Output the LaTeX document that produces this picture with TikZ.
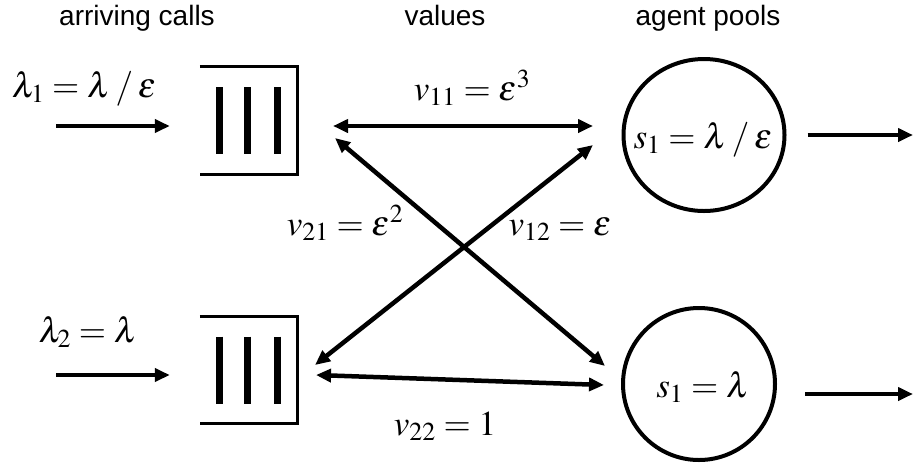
\documentclass[tikz,border=0pt]{standalone}
\usepackage{mathptmx}
\usepackage[no-math]{fontspec}
\setsansfont{Liberation Sans}
\usetikzlibrary{arrows.meta,shapes.geometric,calc}
\begin{document}
\begin{tikzpicture}[x=1pt,y=-1pt,
  head/.style={font=\sffamily\fontsize{28}{32}\selectfont, inner sep=0pt, anchor=base},
  mlbl/.style={font=\fontsize{35}{40}\selectfont, inner sep=0pt, anchor=base},
  qbox/.style={minimum width=97pt, minimum height=107pt, inner sep=0pt},
  frame/.style={line width=3pt, line join=miter},
  qbar/.style={line width=7.5pt},
  pool/.style={draw, line width=4pt, inner sep=0pt},
  arr/.style={line width=4.5pt, -{Triangle[length=15pt,width=13pt]}},
  darr/.style={line width=4.5pt, {Triangle[length=15pt,width=13pt]}-{Triangle[length=15pt,width=13pt]}}
]
\useasboundingbox (0,0) rectangle (913,467);

% headings
\node[head] (h1) at (137,25) {arriving calls};
\node[head] (h2) at (445,25) {values};
\node[head] (h3) at (708,25) {agent pools};

% queues
\node[qbox] (q1) at (248.5,120.5) {};
\node[qbox] (q2) at (248.5,370) {};
\foreach \q in {q1,q2}{
  \draw[frame] (\q.north west) -- (\q.north east) -- (\q.south east) -- (\q.south west);
  \foreach \dx in {-29,-1,29}{
    \draw[qbar] ($(\q.center)+(\dx,-33.5)$) -- ($(\q.center)+(\dx,33.5)$);
  }
}

% pools
\node[pool, ellipse, minimum width=161pt, minimum height=152pt] (c1) at (704,135) {};
\node[pool, circle, minimum size=152pt] (c2) at (699,384) {};
\node[mlbl] (s1) at (703,148) {$s_{1}=\lambda\mathbin{/}\varepsilon$};
\node[mlbl] (s2) at (703,397) {$s_{1}=\lambda$};

% arrival labels and arrows
\node[mlbl] (l1) at (84,97) {$\lambda_{1}=\lambda\mathbin{/}\varepsilon$};
\node[mlbl] (l2) at (88,342) {$\lambda_{2}=\lambda$};
\coordinate (a1) at (56,126);
\coordinate (a2) at (56,375);
\coordinate (q1in) at ($(q1.west)+(-30,5.5)$);
\coordinate (q2in) at ($(q2.west)+(-30,5)$);
\draw[arr] (a1) -- (q1in);
\draw[arr] (a2) -- (q2in);

% ports
\coordinate (q1p1) at (333,126);
\coordinate (q1p2) at (335,138);
\coordinate (q2p1) at (315,365);
\coordinate (q2p2) at (316,375);
\coordinate (c1p1) at (593,126);
\coordinate (c1p2) at (593,145);
\coordinate (c2p1) at (605,366);
\coordinate (c2p2) at (604,385);

\draw[darr] (q1p1) -- (c1p1);
\draw[darr] (q1p2) -- (c2p1);
\draw[darr] (q2p1) -- (c1p2);
\draw[darr] (q2p2) -- (c2p2);

% value labels
\node[mlbl] (v11) at (472,100) {$v_{11}=\varepsilon^{3}$};
\node[mlbl] (v21) at (345,235) {$v_{21}=\varepsilon^{2}$};
\node[mlbl] (v12) at (560,235) {$v_{12}=\varepsilon$};
\node[mlbl] (v22) at (445,435) {$v_{22}=1$};

% outputs
\coordinate (o1) at (913,135);
\coordinate (o2) at (913,394);
\coordinate (c1out) at ($(c1.east)+(21,0)$);
\coordinate (c2out) at ($(c2.east)+(28,10)$);
\draw[arr] (c1out) -- (o1);
\draw[arr] (c2out) -- (o2);
\end{tikzpicture}
\end{document}
